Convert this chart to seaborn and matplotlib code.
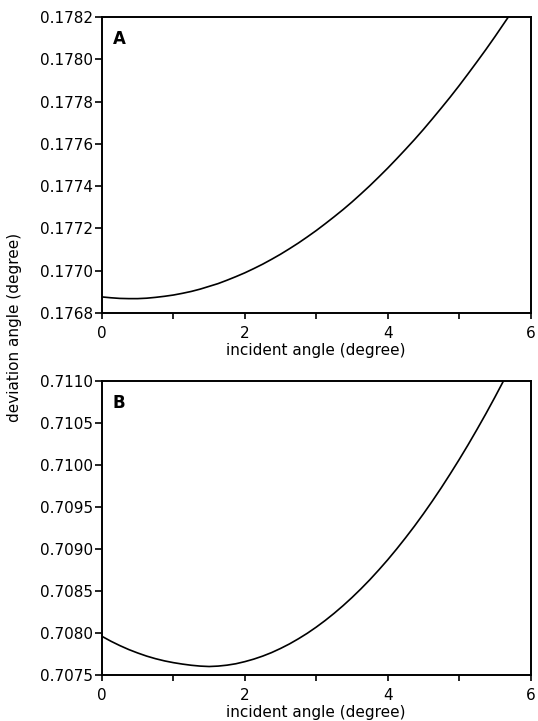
import numpy as np
import pandas as pd
import matplotlib
matplotlib.use('Agg')
import matplotlib.pyplot as plt
import seaborn as sns

# incident angle (degree)
incident = [0.0, 0.125, 0.25, 0.375, 0.5, 0.625, 0.75, 0.875,
            1.0, 1.125, 1.25, 1.375, 1.5, 1.625, 1.75, 1.875,
            2.0, 2.125, 2.25, 2.375, 2.5, 2.625, 2.75, 2.875,
            3.0, 3.125, 3.25, 3.375, 3.5, 3.625, 3.75, 3.875,
            4.0, 4.125, 4.25, 4.375, 4.5, 4.625, 4.75, 4.875,
            5.0, 5.125, 5.25, 5.375, 5.5, 5.625, 5.75]

# panel A: deviation angle (degree)
dev_a = [0.176876, 0.176872, 0.176869, 0.176868, 0.176868, 0.176870, 0.176874, 0.176879,
         0.176885, 0.176893, 0.176902, 0.176913, 0.176926, 0.176939, 0.176955, 0.176972,
         0.176990, 0.177010, 0.177031, 0.177054, 0.177078, 0.177104, 0.177131, 0.177160,
         0.177190, 0.177222, 0.177255, 0.177289, 0.177325, 0.177363, 0.177402, 0.177443,
         0.177485, 0.177529, 0.177574, 0.177620, 0.177668, 0.177718, 0.177769, 0.177821,
         0.177875, 0.177931, 0.177988, 0.178046, 0.178106, 0.178168, 0.178230]

# panel B: deviation angle (degree)
dev_b = [0.707960, 0.707902, 0.707850, 0.707803, 0.707762, 0.707725, 0.707694, 0.707668,
         0.707647, 0.707630, 0.707616, 0.707606, 0.707601, 0.707606, 0.707617, 0.707634,
         0.707659, 0.707689, 0.707725, 0.707767, 0.707816, 0.707870, 0.707931, 0.707997,
         0.708070, 0.708149, 0.708234, 0.708325, 0.708422, 0.708525, 0.708634, 0.708750,
         0.708871, 0.708999, 0.709133, 0.709272, 0.709418, 0.709570, 0.709728, 0.709893,
         0.710063, 0.710239, 0.710422, 0.710610, 0.710805, 0.711006, 0.711213]

a_ticks = [0.1768, 0.1770, 0.1772, 0.1774, 0.1776, 0.1778, 0.1780, 0.1782]
b_ticks = [0.7075, 0.7080, 0.7085, 0.7090, 0.7095, 0.7100, 0.7105, 0.7110]

df_a = pd.DataFrame({'incident': incident, 'dev': dev_a})
df_b = pd.DataFrame({'incident': incident, 'dev': dev_b})

sns.set_style('white')
plt.rcParams['font.family'] = ['DejaVu Sans']
plt.rcParams['text.color'] = 'black'
plt.rcParams['xtick.color'] = 'black'
plt.rcParams['ytick.color'] = 'black'
plt.rcParams['axes.labelcolor'] = 'black'

fig = plt.figure(figsize=(5.38, 7.21), dpi=100)
W, H = 538, 721
ax_a = fig.add_axes([102 / W, 1 - 313 / H, 428.5 / W, 296 / H])
ax_b = fig.add_axes([102 / W, 1 - 675 / H, 428.5 / W, 294 / H])


def style_panel(ax, df, yticks, ylim, letter, h):
    sns.lineplot(data=df, x='incident', y='dev', ax=ax, color='black',
                 linewidth=1.2)
    ax.set_xlim(0, 6)
    ax.set_ylim(*ylim)
    ax.set_xticks([0, 2, 4, 6])
    ax.set_xticks([1, 3, 5], minor=True)
    ax.set_yticks(yticks)
    ax.set_yticklabels(['{:.4f}'.format(v) for v in yticks])
    ax.tick_params(axis='x', which='both', direction='out', length=4,
                   width=1.2, labelsize=11, pad=5, bottom=True)
    ax.tick_params(axis='y', direction='out', length=5, width=1.2,
                   labelsize=11, pad=1.5, left=True)
    for s in ax.spines.values():
        s.set_linewidth(1.4)
        s.set_color('black')
    ax.set_xlabel('incident angle (degree)', fontsize=11)
    ax.xaxis.set_label_coords(0.5, -37 / h)
    ax.xaxis.label.set_va('center')
    ax.set_ylabel('')
    ax.text(0.025, 0.955, letter, transform=ax.transAxes, fontsize=12,
            fontweight='bold', va='top', ha='left')


style_panel(ax_a, df_a, a_ticks, (0.1768, 0.1782), 'A', 296)
style_panel(ax_b, df_b, b_ticks, (0.7075, 0.7110), 'B', 294)

fig.text(15 / W, 1 - 327 / H, 'deviation angle (degree)', rotation=90,
         fontsize=11, ha='center', va='center')

fig.savefig('out.png', dpi=100)
